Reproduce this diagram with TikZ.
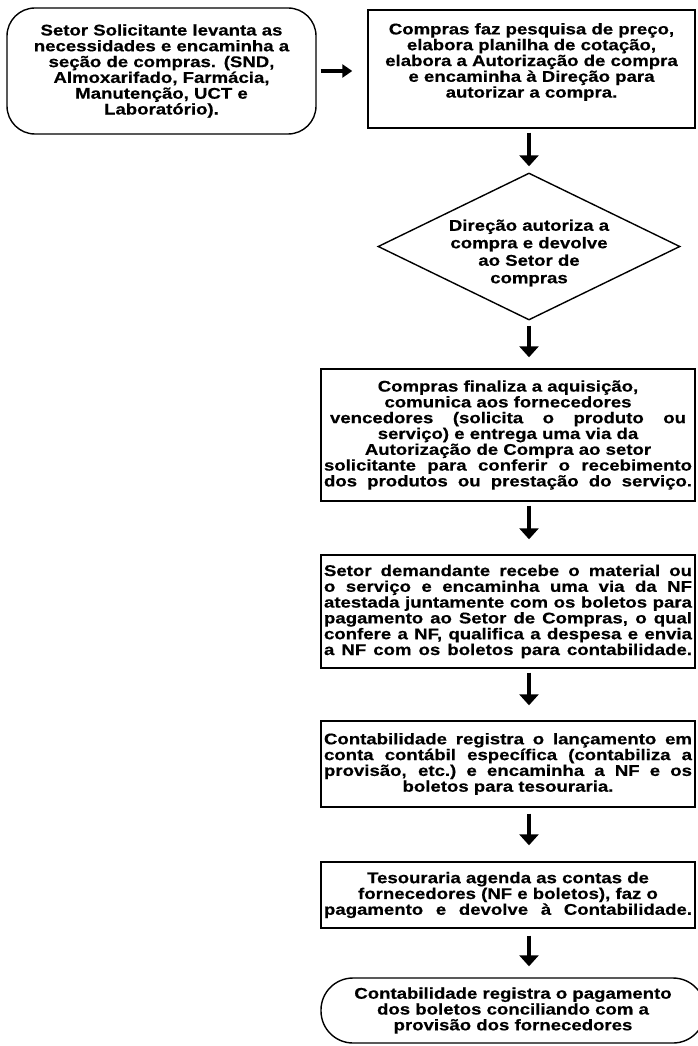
\documentclass[tikz,border=0pt]{standalone}
\usepackage{fontspec}
\newfontfamily\bx{Liberation Sans Bold}[FakeStretch=1.2, FakeBold=0.5]
\usetikzlibrary{arrows.meta,shapes.geometric}
\newcommand\stretchline[2]{{\spaceskip=5.2pt plus 40pt minus 1.6pt\xspaceskip=\spaceskip\makebox[#1][s]{#2}}}
\newcommand\fullline[1]{\stretchline{368pt}{#1}}
\begin{document}
\begin{tikzpicture}[x=1pt,y=-1pt,
  every node/.style={font=\bx\fontsize{15.5pt}{15.8pt}\selectfont},
  boxed/.style={draw, line width=1.4pt, inner sep=0pt, align=center},
  txt/.style={inner sep=0pt, align=center},
  varrow/.style={line width=4.5pt, -{Triangle[length=11pt,width=19pt]}},
  harrow/.style={line width=3.4pt, -{Triangle[length=10pt,width=13pt]}}]
\useasboundingbox (0,0) rectangle (697,1046);

\node[boxed, rounded corners=28pt, minimum width=309pt, minimum height=126pt, text width=300pt]
  (b1) at (161.5,71) {Setor Solicitante levanta as\\necessidades e encaminha a\\se\c{c}\~ao de compras. (SND,\\Almoxarifado, Farm\'acia,\\Manuten\c{c}\~ao, UCT e\\Laborat\'orio).};

\node[boxed, minimum width=327pt, minimum height=118pt] (b2) at (531.5,69) {};
\node[txt, text width=318pt] (b2t) at (531.5,62)
  {Compras faz pesquisa de pre\c{c}o,\\elabora planilha de cota\c{c}\~ao,\\elabora a Autoriza\c{c}\~ao de compra\\e encaminha \`a Dire\c{c}\~ao para\\autorizar a compra.};

\node[draw, line width=1.4pt, diamond, aspect=2, inner sep=0pt, minimum width=302pt, minimum height=147pt]
  (dia) at (529,246.5) {};
\node[txt, text width=170pt, font=\bx\fontsize{15.5pt}{17.5pt}\selectfont]
  (diat) at (529,253) {Dire\c{c}\~ao autoriza a\\compra e devolve\\ao Setor de\\compras};

\node[boxed, minimum width=374pt, minimum height=132pt, text width=368pt]
  (b3) at (508,435) {Compras finaliza a aquisi\c{c}\~ao,\\comunica aos fornecedores\\\stretchline{356pt}{vencedores (solicita o produto ou}\\servi\c{c}o) e entrega uma via da\\Autoriza\c{c}\~ao de Compra ao setor\\\fullline{solicitante para conferir o recebimento}\\\fullline{dos produtos ou presta\c{c}\~ao do servi\c{c}o.}};

\node[boxed, minimum width=374pt, minimum height=113pt, text width=368pt]
  (b4) at (508,611.5) {\fullline{Setor demandante recebe o material ou}\\\fullline{o servi\c{c}o e encaminha uma via da NF}\\\fullline{atestada juntamente com os boletos para}\\\fullline{pagamento ao Setor de Compras, o qual}\\\fullline{confere a NF, qualifica a despesa e envia}\\\fullline{a NF com os boletos para contabilidade.}};

\node[boxed, minimum width=374pt, minimum height=86pt, text width=368pt]
  (b5) at (508,764) {\fullline{Contabilidade registra o lan\c{c}amento em}\\\fullline{conta cont\'abil espec\'{\i}fica (contabiliza a}\\\fullline{provis\~ao, etc.) e encaminha a NF e os}\\boletos para tesouraria.};

\node[boxed, minimum width=374pt, minimum height=66pt, text width=368pt]
  (b6) at (508,895) {Tesouraria agenda as contas de\\fornecedores (NF e boletos), faz o\\\fullline{pagamento e devolve \`a Contabilidade.}};

\node[boxed, rounded corners=32pt, minimum width=384pt, minimum height=65pt, text width=368pt]
  (b7) at (513,1010.5) {Contabilidade registra o pagamento\\dos boletos conciliando com a\\provis\~ao dos fornecedores\hspace*{8pt}};

\draw[harrow, shorten <=4pt, shorten >=15pt] (b1.east) -- (b1.east -| b2.west);
\draw[varrow, shorten <=4pt, shorten >=6pt] (b2.south -| dia.north) -- (dia.north);
\draw[varrow, shorten <=5pt, shorten >=11pt] (dia.south) -- (b3.north -| dia.south);
\draw[varrow, shorten <=4pt, shorten >=15pt] (b3.south -| dia.south) -- (b4.north -| dia.south);
\draw[varrow, shorten <=4pt, shorten >=15pt] (b4.south -| dia.south) -- (b5.north -| dia.south);
\draw[varrow, shorten <=6pt, shorten >=16pt] (b5.south -| dia.south) -- (b6.north -| dia.south);
\draw[varrow, shorten <=7pt, shorten >=11pt] (b6.south -| dia.south) -- (b7.north -| dia.south);
\end{tikzpicture}
\end{document}
